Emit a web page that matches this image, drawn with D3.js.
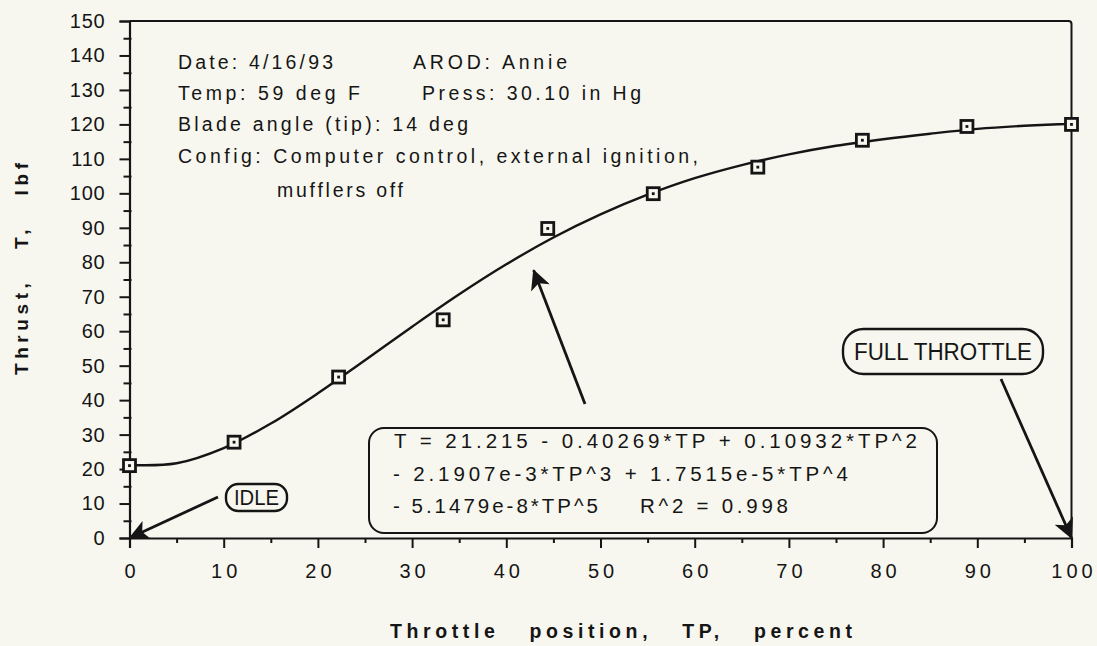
<!DOCTYPE html>
<html>
<head>
<meta charset="utf-8">
<script src="https://cdn.jsdelivr.net/npm/d3@7"></script>
<style>
  body { margin: 0; background: #f7f7ef; }
  svg { display: block; }
  text { font-family: "Liberation Sans", Arial, Helvetica, sans-serif; fill: #151515; }
</style>
</head>
<body>
<div id="chart"></div>
<script>
var width = 1097;
var height = 646;
var margin = ({top: 21, right: 25.5, bottom: 108, left: 129.5});
var ink = "#151515";

// measured data points (throttle %, thrust lbf)
var throttle = [0, 11.1, 22.2, 33.3, 44.4, 55.6, 66.7, 77.8, 88.9, 100];
var thrust = [21.0, 27.8, 46.7, 63.3, 89.8, 99.9, 107.6, 115.4, 119.4, 120.0];

// fitted curve
var curveTP = [0, 5, 10, 15, 20, 25, 30, 35, 40, 45, 50, 55, 60, 65, 70, 75, 80, 85, 90, 95, 100];
var curveT = [21.2, 21.7, 26.1, 33.2, 42.0, 51.6, 61.3, 70.7, 79.4, 87.2, 93.9, 99.6, 104.4, 108.2, 111.3, 113.8, 115.7, 117.3, 118.7, 119.6, 120.2];

var xTicks = [0, 10, 20, 30, 40, 50, 60, 70, 80, 90, 100];
var yTicks = [0, 10, 20, 30, 40, 50, 60, 70, 80, 90, 100, 110, 120, 130, 140, 150];

var infoLines = [
  "Date: 4/16/93", "AROD: Annie",
  "Temp: 59 deg F", "Press: 30.10 in Hg",
  "Blade angle (tip): 14 deg",
  "Config: Computer control, external ignition,",
  "mufflers off"
];
var eqLines = [
  "T = 21.215 - 0.40269*TP + 0.10932*TP^2",
  "- 2.1907e-3*TP^3 + 1.7515e-5*TP^4",
  "- 5.1479e-8*TP^5",
  "R^2 = 0.998"
];

var x = d3.scaleLinear()
    .domain([0, 100])
    .range([margin.left, width - margin.right]);
var y = d3.scaleLinear()
    .domain([0, 150])
    .range([height - margin.bottom, margin.top]);

const svg = d3.select("#chart").append("svg")
    .attr("width", width)
    .attr("height", height)
    .attr("viewBox", [0, 0, width, height]);

svg.append("rect")
    .attr("width", width).attr("height", height)
    .attr("fill", "#f7f7ef");

// arrow head
svg.append("defs").append("marker")
    .attr("id", "head")
    .attr("viewBox", "0 0 10 10")
    .attr("refX", 9.5).attr("refY", 5)
    .attr("markerWidth", 30).attr("markerHeight", 20)
    .attr("markerUnits", "userSpaceOnUse")
    .attr("orient", "auto")
  .append("path")
    .attr("d", "M0,0 L10,5 L0,10 L2.5,5 Z")
    .attr("fill", ink);

// frame: top and right
svg.append("path")
    .attr("d", `M${x(0)},${y(150)} H${x(100) - 3} Q${x(100)},${y(150)} ${x(100)},${y(150) + 3} V${y(0)}`)
    .attr("fill", "none")
    .attr("stroke", ink)
    .attr("stroke-width", 2);

// y axis
const yAxis = g => g
    .attr("transform", `translate(${x(0)},0)`)
    .call(d3.axisLeft(y).tickValues(yTicks).tickSize(10).tickPadding(14))
    .call(g => g.select(".domain").attr("stroke", ink).attr("stroke-width", 2.2))
    .call(g => g.selectAll(".tick line").attr("stroke", ink).attr("stroke-width", 2))
    .call(g => g.selectAll(".tick text")
        .attr("font-size", 20)
        .attr("font-family", "Liberation Sans, Arial, sans-serif")
        .attr("letter-spacing", 0.8)
        .attr("fill", "#222"));

const yMinor = g => g
    .attr("transform", `translate(${x(0)},0)`)
    .call(d3.axisLeft(y).tickValues(d3.range(5, 150, 10)).tickSize(6).tickFormat(""))
    .call(g => g.select(".domain").remove())
    .call(g => g.selectAll(".tick line").attr("stroke", ink).attr("stroke-width", 2).attr("x2", -6).attr("x1", 2));

// x axis
const xAxis = g => g
    .attr("transform", `translate(0,${y(0)})`)
    .call(d3.axisBottom(x).tickValues(xTicks).tickSize(10).tickPadding(16))
    .call(g => g.select(".domain").attr("stroke", ink).attr("stroke-width", 2.2))
    .call(g => g.selectAll(".tick line").attr("stroke", ink).attr("stroke-width", 2))
    .call(g => g.selectAll(".tick text")
        .attr("font-size", 20)
        .attr("font-family", "Liberation Sans, Arial, sans-serif")
        .attr("letter-spacing", 4)
        .attr("dx", 2)
        .attr("fill", "#222"));

const xMinor = g => g
    .attr("transform", `translate(0,${y(0)})`)
    .call(d3.axisBottom(x).tickValues(d3.range(5, 100, 10)).tickSize(5).tickFormat(""))
    .call(g => g.select(".domain").remove())
    .call(g => g.selectAll(".tick line").attr("stroke", ink).attr("stroke-width", 2));

svg.append("g").call(yMinor);
svg.append("g").call(xMinor);
svg.append("g").call(yAxis);
svg.append("g").call(xAxis);

// axis titles
svg.append("text")
    .attr("x", 390)
    .attr("y", 637.5)
    .attr("font-weight", "bold")
    .attr("font-size", 19.5)
    .attr("textLength", 462)
    .attr("lengthAdjust", "spacing")
    .style("white-space", "pre")
    .text("Throttle   position,   TP,   percent");

svg.append("text")
    .attr("transform", `translate(28,375) rotate(-90)`)
    .attr("font-weight", "bold")
    .attr("font-size", 19)
    .attr("textLength", 212)
    .attr("lengthAdjust", "spacing")
    .style("white-space", "pre")
    .text("Thrust,   T,   lbf");

// info block
var infoPos = [
  [178, 68.5, 155], [413, 68.5, 154],
  [178, 99.5, 182], [422, 99.5, 219],
  [178, 130.5, 290],
  [178, 163, 520],
  [277, 196.5, 126]
];
svg.append("g")
  .selectAll("text")
  .data(infoLines)
  .join("text")
    .attr("x", (d, i) => infoPos[i][0])
    .attr("y", (d, i) => infoPos[i][1])
    .attr("font-size", 19.5)
    .attr("textLength", (d, i) => infoPos[i][2])
    .attr("lengthAdjust", "spacing")
    .attr("fill", "#222")
    .text(d => d);

// fitted curve
var line = d3.line()
    .curve(d3.curveCatmullRom)
    .x((d, i) => x(curveTP[i]))
    .y(d => y(d));

svg.append("path")
    .datum(curveT)
    .attr("fill", "none")
    .attr("stroke", ink)
    .attr("stroke-width", 2.4)
    .attr("stroke-linejoin", "round")
    .attr("d", line);

// data markers
var pts = svg.append("g")
  .selectAll("g")
  .data(thrust)
  .join("g")
    .attr("transform", (d, i) => `translate(${x(throttle[i])},${y(d)})`);
pts.append("rect")
    .attr("x", -6).attr("y", -6)
    .attr("width", 12).attr("height", 12)
    .attr("fill", "#f7f7ef")
    .attr("stroke", ink)
    .attr("stroke-width", 2.8);
pts.append("rect")
    .attr("x", -1.4).attr("y", -1.4)
    .attr("width", 2.8).attr("height", 2.8)
    .attr("fill", ink);

// equation box
svg.append("rect")
    .attr("x", 369).attr("y", 428)
    .attr("width", 568).attr("height", 105)
    .attr("rx", 15)
    .attr("fill", "#f7f7ef")
    .attr("stroke", ink)
    .attr("stroke-width", 2);

var eqPos = [[394, 448, 523], [393, 480.5, 455], [393, 513, 205], [640, 513, 148]];
svg.append("g")
  .selectAll("text")
  .data(eqLines)
  .join("text")
    .attr("x", (d, i) => eqPos[i][0])
    .attr("y", (d, i) => eqPos[i][1])
    .attr("font-size", 20.5)
    .attr("textLength", (d, i) => eqPos[i][2])
    .attr("lengthAdjust", "spacing")
    .attr("fill", "#222")
    .text(d => d);

// callouts
function arrow(x1, y1, x2, y2) {
  svg.append("line")
      .attr("x1", x1).attr("y1", y1)
      .attr("x2", x2).attr("y2", y2)
      .attr("stroke", ink)
      .attr("stroke-width", 2.8)
      .attr("marker-end", "url(#head)");
}

arrow(585, 404, x(42.9), y(77.7));
arrow(218, 497, x(0), y(0));
arrow(1001, 379, x(100), y(0));

function pill(x0, y0, w, h, label, fs, tl) {
  svg.append("rect")
      .attr("x", x0).attr("y", y0)
      .attr("width", w).attr("height", h)
      .attr("rx", h / 2.2)
      .attr("fill", "#f7f7ef")
      .attr("stroke", ink)
      .attr("stroke-width", 2.4);
  svg.append("text")
      .attr("x", x0 + (w - tl) / 2)
      .attr("y", y0 + h / 2 + fs * 0.36)
      .attr("font-size", fs)
      .attr("textLength", tl)
      .attr("lengthAdjust", "spacingAndGlyphs")
      .attr("fill", "#222")
      .text(label);
}

pill(226, 484, 61, 27, "IDLE", 22, 45);
pill(843, 329, 200, 45, "FULL THROTTLE", 23, 178);
</script>
</body>
</html>
